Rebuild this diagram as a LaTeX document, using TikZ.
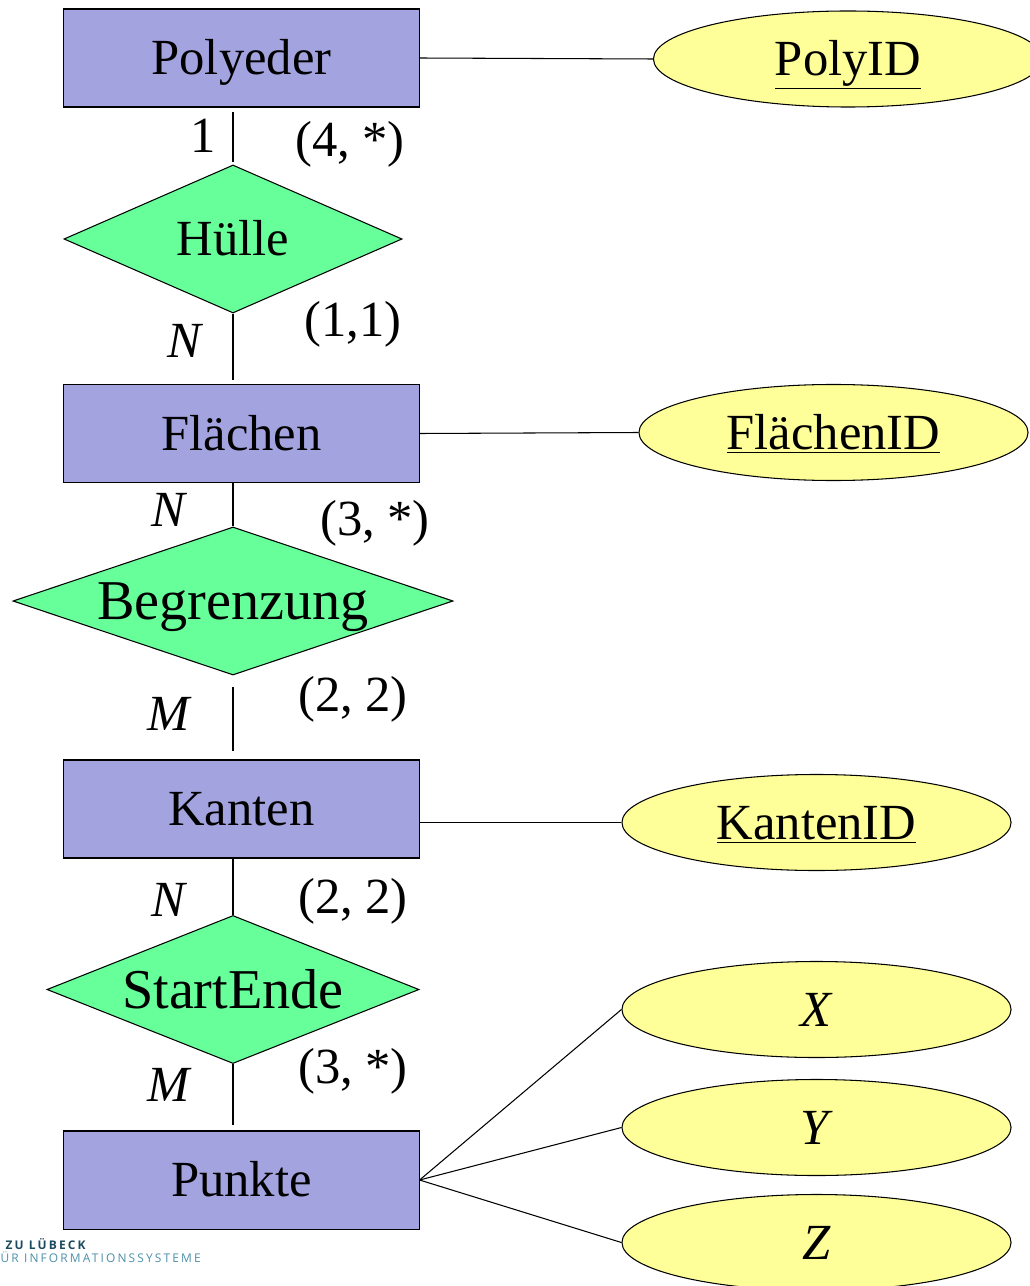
\documentclass[tikz,border=0pt]{standalone}
\usepackage{fontspec}
\setmainfont{Liberation Serif}
\newfontfamily\logofont[LetterSpace=18]{Open Sans}
\usetikzlibrary{shapes.geometric}
\definecolor{entfill}{HTML}{A3A3DF}
\definecolor{relfill}{HTML}{66FF99}
\definecolor{attfill}{HTML}{FFFF99}
\definecolor{logodark}{HTML}{1B4B60}
\definecolor{logolight}{HTML}{4C8FA8}

\tikzset{
  txt/.style={inner sep=0pt, text height=24pt, text depth=0pt},
  bigtxt/.style={inner sep=0pt, font=\fontsize{40}{44}\selectfont, text height=26.5pt, text depth=0pt},
  entity/.style={draw, fill=entfill, txt, minimum width=8.875cm, minimum height=2.45cm},
  rel/.style={draw, diamond, fill=relfill, inner sep=0pt, minimum height=3.7cm},
  attr/.style={draw, ellipse, fill=attfill, txt, minimum width=9.725cm, minimum height=2.4cm},
  card/.style={inner sep=0pt, anchor=base},
}

\begin{document}
\begin{tikzpicture}[x=0.025cm, y=-0.025cm, font=\fontsize{36}{40}\selectfont, line width=0.75pt]
  \clip (0,0) rectangle (1030,1286);
  % Entitaeten
  \node[entity] (poly) at (241.5,58) {Polyeder};
  \node[entity] (flaech) at (241.5,433.5) {Flächen};
  \node[entity] (kanten) at (241.5,809) {Kanten};
  \node[entity] (punkte) at (241.5,1180) {Punkte};
  % Beziehungen
  \node[rel, minimum width=8.45cm, label={[txt]center:Hülle}] (huelle) at (233,239) {};
  \node[rel, minimum width=11cm, label={[bigtxt]center:Begrenzung}] (begr) at (233,601) {};
  \node[rel, minimum width=9.3cm, label={[bigtxt]center:StartEnde}] (startende) at (233,989.5) {};
  % Attribute
  \node[attr] (polyid) at (848,59) {\underline{PolyID}};
  \node[attr] (flaechid) at (833.5,432.5) {\underline{FlächenID}};
  \node[attr] (kantid) at (816.5,822.5) {\underline{KantenID}};
  \node[attr] (px) at (816.5,1009.5) {\textit{X}};
  \node[attr] (py) at (816.5,1127.5) {\textit{Y}};
  \node[attr] (pz) at (816.5,1242.5) {\textit{Z}};
  % Verbindungen
  \draw[shorten <=3pt, shorten >=2pt] (huelle.north |- poly.south) -- (huelle.north);
  \draw[shorten >=3pt] (huelle.south) -- (huelle.south |- flaech.north);
  \draw (begr.north |- flaech.south) -- (begr.north);
  \draw[shorten <=8pt, shorten >=6pt] (begr.south) -- (begr.south |- kanten.north);
  \draw (startende.north |- kanten.south) -- (startende.north);
  \draw[shorten >=4pt] (startende.south) -- (startende.south |- punkte.north);
  \draw (poly.east) -- (polyid.west);
  \draw (flaech.east) -- (flaechid.west);
  \draw (kantid.west -| kanten.east) -- (kantid.west);
  \draw (punkte.east) -- (px.west);
  \draw (punkte.east) -- (py.west);
  \draw (punkte.east) -- (pz.west);
  % Kardinalitaeten
  \node[card] (c1) at (203,153) {1};
  \node[card] (c2) at (350,157) {(4, *)};
  \node[card] (c3) at (186,357) {\textit{N}};
  \node[card] (c4) at (353,336) {(1,1)};
  \node[card] (c5) at (170,526) {\textit{N}};
  \node[card] (c6) at (375,535) {(3, *)};
  \node[card] (c7) at (170,730) {\textit{M}};
  \node[card] (c8) at (353,711) {(2, 2)};
  \node[card] (c9) at (170,916) {\textit{N}};
  \node[card] (c10) at (353,913) {(2, 2)};
  \node[card] (c11) at (170,1101) {\textit{M}};
  \node[card] (c12) at (353,1083) {(3, *)};
  % Logo
  \node[inner sep=0pt, anchor=base west, font=\logofont\bfseries\fontsize{8.5}{9}\selectfont, text=logodark] (logo1) at (5,1249) {ZU LÜBECK};
  \node[inner sep=0pt, anchor=base west, font=\logofont\fontsize{8.5}{9}\selectfont, text=logolight] (logo2) at (0,1262) {ÜR INFORMATIONSSYSTEME};
\end{tikzpicture}
\end{document}
